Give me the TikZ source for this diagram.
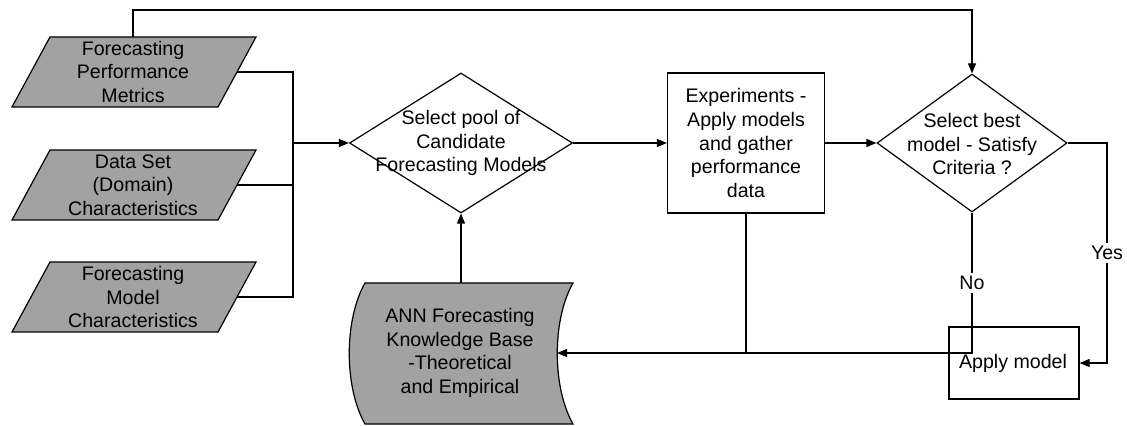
\documentclass[tikz,border=0pt]{standalone}
\usepackage{fontspec}
\setmainfont{Liberation Sans}
\usetikzlibrary{shapes.geometric,arrows.meta,calc}
\definecolor{shade}{RGB}{162,162,162}
\begin{document}
\begin{tikzpicture}[x=0.5pt,y=-0.5pt,
  line width=0.6pt,
  every node/.style={font=\fontsize{9.8}{11.8}\selectfont},
  txt/.style={align=center,inner sep=0pt},
  arr/.style={-{Triangle[length=5pt,width=4pt]}},
  inshape/.style={fill=shade,draw=black},
  dia/.style={diamond,draw,inner sep=0pt},
  boxnode/.style={rectangle,draw,inner sep=0pt},
  lbl/.style={fill=white,inner sep=1.5pt}]
\useasboundingbox (0,0) rectangle (1127,426);

% input parallelograms (shape drawn around each text node)
\foreach \n/\cy in {p1/72,p2/185,p3/297}{
  \path[inshape] (50,\cy-35) -- (256,\cy-35) -- (218,\cy+35) -- (12,\cy+35) -- cycle;
  \coordinate (\n e) at (237,\cy);
}
\coordinate (p1n) at (133,37);
\node[txt] (p1) at (133,72) {Forecasting\\Performance\\Metrics};
\node[txt] (p2) at (133,185) {Data Set\\(Domain)\\Characteristics};
\node[txt] (p3) at (133,297) {Forecasting\\Model\\Characteristics};

% knowledge base (stored-data shape)
\path[inshape] (365,283) -- (573,283)
  .. controls (552,320) and (552,387) .. (573,424) -- (365,424)
  .. controls (344,387) and (344,320) .. (365,283) -- cycle;
\coordinate (annN) at (469,283);
\coordinate (annE) at (557,353);
\node[txt] (ann) at (460,353) {ANN Forecasting\\Knowledge Base\\-Theoretical\\and Empirical};

% process nodes
\node[dia,minimum width=111.5pt,minimum height=70pt] (d1) at (461,143) {};
\node[txt] (d1t) at (461,143) {Select pool of\\Candidate\\Forecasting Models};
\node[boxnode,minimum width=78.5pt,minimum height=70pt] (exp) at (746,143) {};
\node[txt] (expt) at (746,143) {Experiments -\\Apply models\\and gather\\performance\\data};
\node[dia,minimum width=95pt,minimum height=69pt] (d2) at (972,143) {};
\node[txt] (d2t) at (972,144) {Select best\\model - Satisfy\\Criteria ?};
\node[boxnode,minimum width=65pt,minimum height=36pt] (apply) at (1014,363) {};
\node[txt] (applyt) at (1013,363) {Apply model};

% connectors
\coordinate (j) at (293,143);
\draw (p1e) -| (j);
\draw (p3e) -| (j);
\draw (p2e) -- (p2e -| j);
\draw[arr] (j) -- (d1.west);
\draw[arr] (p1n) -- ++(0,-27) -| (d2.north);
\draw[arr] (d1.east) -- (exp.west);
\draw[arr] (exp.east) -- (d2.west);
\draw[arr] (d1.south |- annN) -- (d1.south);
\coordinate (yc) at (1107,363);
\draw[arr] (d2.east) -| (yc) -- (apply.east);
\draw (exp.south) -- (exp.south |- annE);
\draw[arr] (d2.south) -- (d2.south |- annE) -- (annE);
\node[lbl] (yes) at (1107,253) {Yes};
\node[lbl] (no) at (972,283) {No};
\end{tikzpicture}
\end{document}
